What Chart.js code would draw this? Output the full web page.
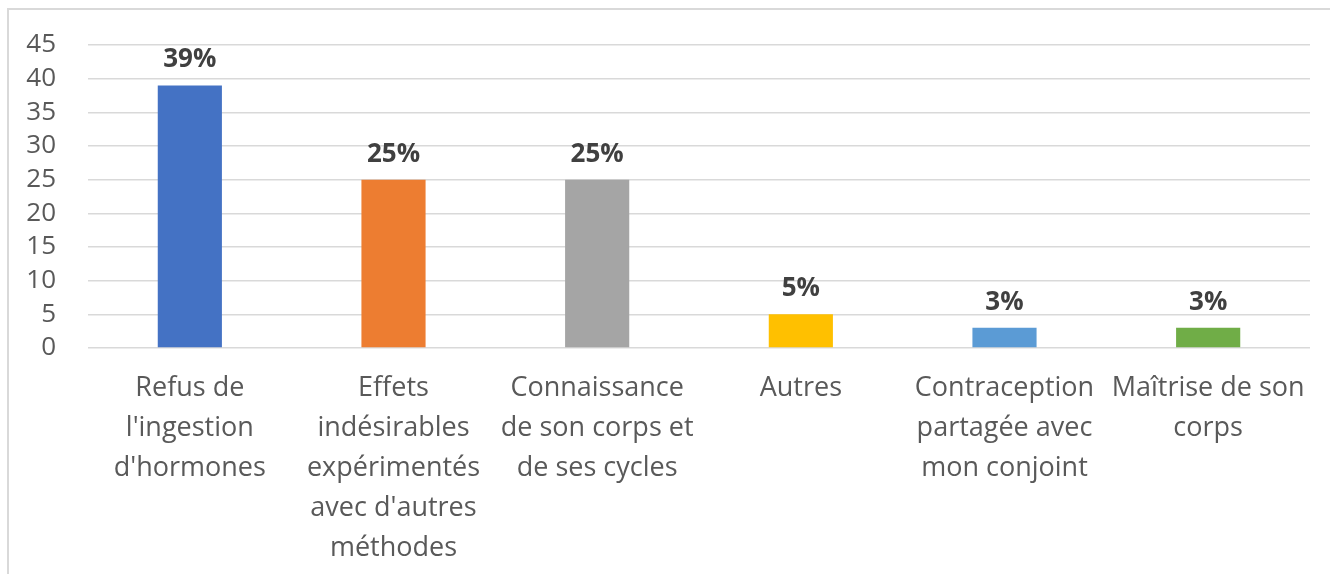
<!DOCTYPE html>
<html>
<head>
<meta charset="utf-8">
<script src="https://cdn.jsdelivr.net/npm/chart.js@4.4.1/dist/chart.umd.min.js"></script>
<style>
  html, body { margin: 0; padding: 0; background: #ffffff; overflow: hidden; }
  #frame { position: absolute; left: 7px; top: 8px; width: 1340px; height: 600px; border: 2px solid #d9d9d9; box-sizing: border-box; }
  #wrap { position: absolute; left: 0; top: 0; width: 1330px; height: 574px; }
</style>
</head>
<body>
<div id="frame"></div>
<div id="wrap"><canvas id="c" width="1330" height="574"></canvas></div>
<script>
const categories = [
  ["Refus de", "l'ingestion", "d'hormones"],
  ["Effets", "indésirables", "expérimentés", "avec d'autres", "méthodes"],
  ["Connaissance", "de son corps et", "de ses cycles"],
  ["Autres"],
  ["Contraception", "partagée avec", "mon conjoint"],
  ["Maîtrise de son", "corps"]
];
const values = [39, 25, 25, 5, 3, 3];
const valueLabels = ["39%", "25%", "25%", "5%", "3%", "3%"];
const barColors = ["#4472C4", "#ED7D31", "#A5A5A5", "#FFC000", "#5B9BD5", "#70AD47"];
const yMin = 0, yMax = 45, yStep = 5;

const labelPlugin = {
  id: 'valueLabels',
  afterDatasetsDraw(chart) {
    const ctx = chart.ctx;
    const meta = chart.getDatasetMeta(0);
    ctx.save();
    ctx.font = "bold 26px 'Open Sans'";
    ctx.fillStyle = "#404040";
    ctx.textAlign = "center";
    ctx.textBaseline = "alphabetic";
    meta.data.forEach((bar, i) => {
      ctx.fillText(valueLabels[i], bar.x, bar.y - 18);
    });
    ctx.restore();
  }
};

new Chart(document.getElementById('c'), {
  type: 'bar',
  data: {
    labels: categories,
    datasets: [{
      data: values,
      backgroundColor: barColors,
      borderWidth: 0,
      categoryPercentage: 0.5,
      barPercentage: 0.63
    }]
  },
  options: {
    responsive: false,
    animation: false,
    devicePixelRatio: 1,
    layout: { padding: { left: 0, right: 20, top: 41, bottom: 0 } },
    plugins: { legend: { display: false }, tooltip: { enabled: false } },
    scales: {
      x: {
        grid: { display: false, drawTicks: false },
        border: { display: false },
        ticks: {
          color: "#595959",
          font: { family: "'Open Sans'", size: 27, lineHeight: '40px' },
          maxRotation: 0, minRotation: 0, autoSkip: false,
          padding: 20
        },
        afterFit(scale) { scale.height = 226; }
      },
      y: {
        min: yMin, max: yMax,
        grid: { color: "#d9d9d9", lineWidth: 1.5, drawTicks: false },
        border: { display: false },
        ticks: {
          stepSize: yStep,
          autoSkip: false,
          color: "#595959",
          font: { family: "'Open Sans'", size: 26, lineHeight: 1 },
          padding: 32
        },
        afterFit(scale) { scale.width = 88; }
      }
    }
  },
  plugins: [labelPlugin]
});
</script>
</body>
</html>
